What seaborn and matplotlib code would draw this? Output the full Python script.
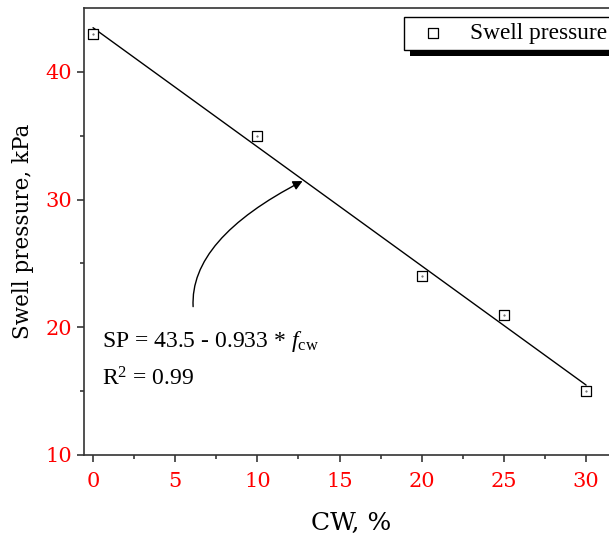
import numpy as np
import pandas as pd
import matplotlib
matplotlib.use('Agg')
import matplotlib.pyplot as plt
from matplotlib.patches import Rectangle
import seaborn as sns

# data
cw = [0, 10, 20, 25, 30]
swell = [43, 35, 24, 21, 15]
x_ticks = [0, 5, 10, 15, 20, 25, 30]
y_ticks = [10, 20, 30, 40]

df = pd.DataFrame({'cw': cw, 'swell': swell})

sns.set_style('ticks')
plt.rcParams['font.family'] = ['Liberation Serif', 'DejaVu Serif']
plt.rcParams['text.color'] = 'black'
plt.rcParams['axes.labelcolor'] = 'black'
plt.rcParams['mathtext.fontset'] = 'custom'
plt.rcParams['mathtext.rm'] = 'Liberation Serif'
plt.rcParams['mathtext.it'] = 'Liberation Serif:italic'

fig = plt.figure(figsize=(6.09, 5.38), dpi=100)
ax = fig.add_axes([84 / 609, 83 / 538, 535 / 609, 447 / 538])

# fitted line (seaborn computes the least squares fit)
sns.regplot(data=df, x='cw', y='swell', scatter=False, ci=None, truncate=True,
            line_kws={'color': 'black', 'lw': 1.0, 'zorder': 2}, ax=ax)
sns.scatterplot(data=df, x='cw', y='swell', marker='s', s=48,
                facecolor='white', edgecolor='black', linewidth=0.9,
                label='Swell pressure', zorder=3, ax=ax)
# little centre dot in the open squares
ax.scatter(df['cw'], df['swell'], marker='.', s=1, color='#555555', zorder=4)

ax.set_xlim(-0.55, 32)
ax.set_ylim(10, 45)
ax.set_xticks(x_ticks)
ax.set_yticks(y_ticks)
ax.set_xticks(np.arange(2.5, 31, 5), minor=True)
ax.set_yticks([15, 25, 35], minor=True)
ax.tick_params(axis='x', which='major', pad=7)
ax.tick_params(axis='both', which='major', direction='out', length=5, width=1.1,
               labelsize=15, labelcolor='red')
ax.tick_params(axis='both', which='minor', direction='out', length=3, width=1.1)
for lab in ax.get_xticklabels() + ax.get_yticklabels():
    lab.set_family('DejaVu Serif')

for side in ['left', 'bottom', 'top', 'right']:
    ax.spines[side].set_visible(True)
    ax.spines[side].set_linewidth(1.2)
    ax.spines[side].set_color('#333333')

ax.set_xlabel('CW, %', family='DejaVu Serif', fontsize=18, labelpad=15)
ax.set_ylabel('Swell pressure, kPa', family='DejaVu Serif', fontsize=15.5, labelpad=8)

ax.text(0.55, 18.85, r'SP = 43.5 - 0.933 * $f_{\rm cw}$', fontsize=17, va='center')
ax.text(0.55, 15.95, r'R$^2$ = 0.99', fontsize=17, va='center')

ax.annotate('', xy=(12.9, 31.55), xytext=(6.1, 21.4),
            arrowprops=dict(arrowstyle='-|>', color='black', lw=1.0,
                            mutation_scale=14,
                            connectionstyle='angle3,angleA=95,angleB=27'))

leg = ax.legend(loc='upper left', bbox_to_anchor=(404 / 609, 1 - 17 / 538),
                bbox_transform=fig.transFigure, fontsize=16.8, frameon=True,
                fancybox=False, shadow=False, framealpha=1, handlelength=2.0,
                borderpad=0.25, handletextpad=0.6, borderaxespad=0)
leg.get_frame().set_edgecolor('black')
leg.get_frame().set_facecolor('white')
leg.get_frame().set_linewidth(1.0)

# solid black drop shadow under the legend box
fig.canvas.draw()
bb = leg.get_window_extent()
shadow = Rectangle((bb.x0 + 6, bb.y0 - 6), bb.width, bb.height, transform=None,
                   facecolor='black', edgecolor='none', zorder=4.9, clip_on=False)
ax.add_patch(shadow)

fig.savefig('out.png', dpi=100)
